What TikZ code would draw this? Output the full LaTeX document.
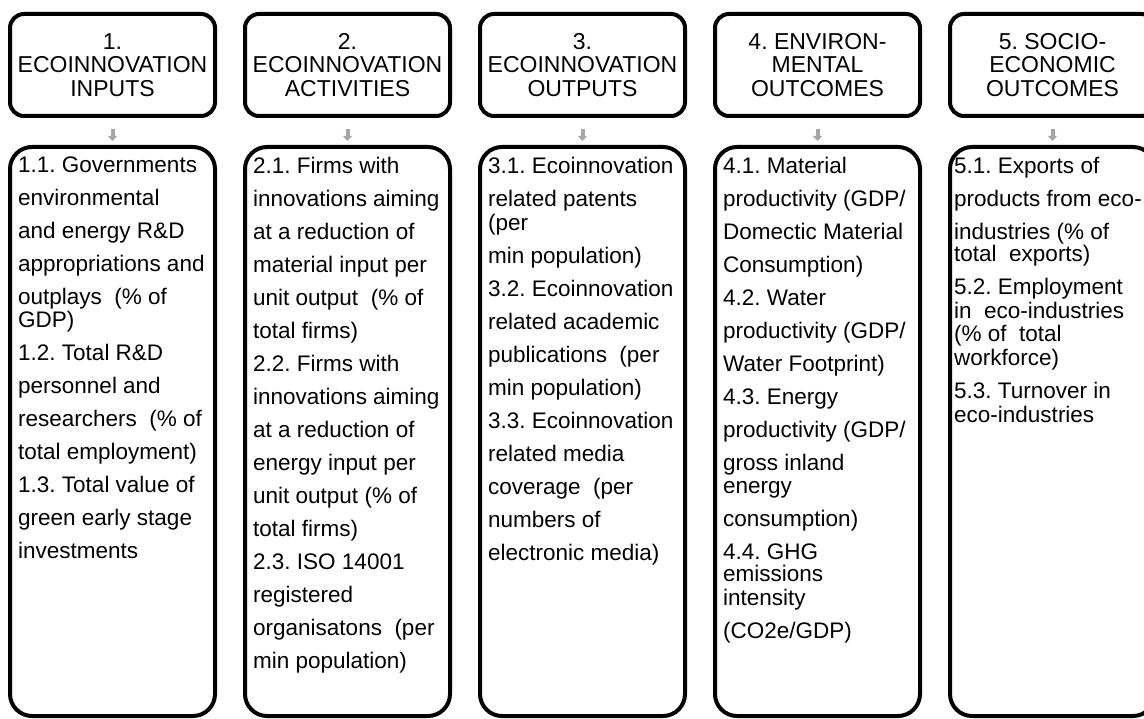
\documentclass[tikz,border=0pt]{standalone}
\usepackage{fontspec}
\setmainfont{Liberation Sans}
\usetikzlibrary{arrows.meta}
\definecolor{arrowgray}{HTML}{A6A6A6}
\frenchspacing
\begin{document}
\begin{tikzpicture}[x=1pt,y=-1pt,
  head/.style={draw=black, line width=4pt, rounded corners=14pt,
    minimum width=205pt, minimum height=102pt, inner sep=0pt,
    align=center, font=\frenchspacing\fontsize{23}{23.5}\selectfont},
  body/.style={draw=black, line width=4pt, rounded corners=22pt,
    minimum width=205pt, minimum height=569pt, inner sep=0pt},
  btext/.style={anchor=north west, inner sep=0pt, align=left,
    font=\frenchspacing\fontsize{22.5}{33}\selectfont},
  flow/.style={draw=arrowgray, line width=4pt,
    -{Triangle[width=9pt,length=5pt]}, shorten <=11pt, shorten >=4pt}]
\useasboundingbox (0,0) rectangle (1144,719);
\fill[white] (0,0) rectangle (1144,719);
\begin{scope}
\clip (0,0) rectangle (1144,719);
% header boxes
\node[head] (h1) at (112.5,65) {1.\\ECOINNOVATION\\INPUTS};
\node[head] (h2) at (347.5,65) {2.\\ECOINNOVATION\\ACTIVITIES};
\node[head] (h3) at (582.5,65) {3.\\ECOINNOVATION\\OUTPUTS};
\node[head] (h4) at (817.5,65) {4. ENVIRON-\\MENTAL\\OUTCOMES};
\node[head] (h5) at (1052.5,65) {5. SOCIO-\\ECONOMIC\\OUTCOMES};
% body boxes
\node[body] (b1) at (112.5,431.5) {};
\node[body] (b2) at (347.5,431.5) {};
\node[body] (b3) at (582.5,431.5) {};
\node[body] (b4) at (817.5,431.5) {};
\node[body] (b5) at (1052.5,431.5) {};
% arrows
\foreach \i in {1,...,5} \draw[flow] (h\i) -- (b\i);
% texts
\node[btext] (t1) at (18,157) {1.1. Governments\\
environmental\\
and energy R\&D\\
appropriations and\\
outplays\ \ (\% of\\[-10pt]
GDP)\\
1.2. Total R\&D\\
personnel and\\
researchers\ \ (\% of\\
total employment)\\
1.3. Total value of\\
green early stage\\
investments};
\node[btext] (t2) at (253,157) {2.1. Firms with\\
innovations aiming\\
at a reduction of\\
material input per\\
unit output\ \ (\% of\\
total firms)\\
2.2. Firms with\\
innovations aiming\\
at a reduction of\\
energy input per\\
unit output (\% of\\
total firms)\\
2.3. ISO 14001\\
registered\\
organisatons\ \ (per\\
min population)};
\node[btext] (t3) at (488,157) {3.1. Ecoinnovation\\
related patents\\[-9pt]
(per\\
min population)\\
3.2. Ecoinnovation\\
related academic\\
publications\ \ (per\\
min population)\\
3.3. Ecoinnovation\\
related media\\
coverage\ \ (per\\
numbers of\\
electronic media)};
\node[btext] (t4) at (723,157) {4.1. Material\\
productivity (GDP/\\
Domectic Material\\
Consumption)\\
4.2. Water\\
productivity (GDP/\\
Water Footprint)\\
4.3. Energy\\
productivity (GDP/\\
gross inland\\[-10pt]
energy\\
consumption)\\
4.4. GHG\\[-11pt]
emissions\\[-9pt]
intensity\\
(CO2e/GDP)};
\node[btext] (t5) at (954,157) {5.1. Exports of\\
products from eco-\\
industries (\% of\\[-11pt]
total\ \ exports)\\
5.2. Employment\\[-9pt]
in\ \ eco-industries\\[-10pt]
(\% of\ \ total\\[-9pt]
workforce)\\
5.3. Turnover in\\[-9pt]
eco-industries};
\end{scope}
\end{tikzpicture}
\end{document}
